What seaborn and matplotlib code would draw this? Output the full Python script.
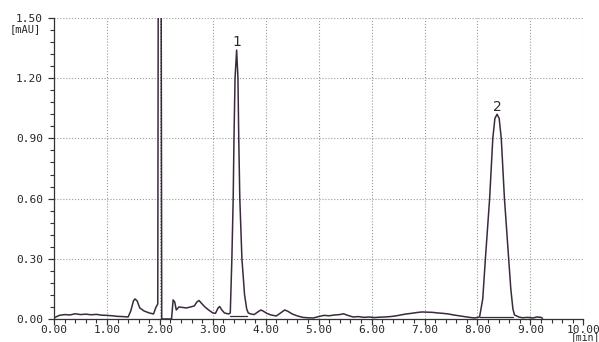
import numpy as np
import pandas as pd
import matplotlib
matplotlib.use("Agg")
import matplotlib.pyplot as plt
import seaborn as sns
from matplotlib.ticker import MultipleLocator

# chromatogram trace (min, mAU)
times = [0.00, 0.05, 0.10, 0.20, 0.30, 0.40, 0.50, 0.60, 0.70, 0.80, 0.90,
         1.00, 1.10, 1.20, 1.30, 1.40, 1.45, 1.50, 1.53, 1.57, 1.62, 1.70,
         1.80, 1.88, 1.92, 1.96, 1.968, 1.975, 2.015, 2.025, 2.035, 2.22,
         2.25, 2.28, 2.31, 2.36, 2.42, 2.50, 2.58, 2.65, 2.70, 2.74, 2.78,
         2.85, 2.92, 3.00, 3.05, 3.10, 3.13, 3.17, 3.22, 3.30, 3.33, 3.36,
         3.385, 3.40, 3.42, 3.45, 3.475, 3.49, 3.51, 3.55, 3.60, 3.64, 3.67,
         3.72, 3.78, 3.85, 3.91, 3.96, 4.02, 4.10, 4.20, 4.28, 4.36, 4.42,
         4.50, 4.60, 4.70, 4.80, 4.90, 5.00, 5.10, 5.20, 5.30, 5.40, 5.47,
         5.55, 5.65, 5.75, 5.85, 5.95, 6.05, 6.15, 6.25, 6.35, 6.45, 6.55,
         6.65, 6.75, 6.85, 6.95, 7.05, 7.15, 7.25, 7.35, 7.45, 7.55, 7.65,
         7.75, 7.85, 7.95, 8.04, 8.10, 8.15, 8.19, 8.23, 8.26, 8.29, 8.33,
         8.37, 8.41, 8.45, 8.48, 8.51, 8.55, 8.59, 8.63, 8.67, 8.70, 8.78,
         8.85, 8.95, 9.05, 9.12, 9.20, 9.23]
signal = [0.005, 0.012, 0.018, 0.022, 0.020, 0.026, 0.022, 0.024, 0.021, 0.023, 0.019,
          0.018, 0.016, 0.013, 0.012, 0.010, 0.040, 0.090, 0.100, 0.090, 0.055, 0.040,
          0.030, 0.025, 0.055, 0.075, 1.50, 3.00, 3.00, 1.50, 0.000, 0.000,
          0.095, 0.085, 0.045, 0.060, 0.058, 0.055, 0.060, 0.065, 0.085, 0.092, 0.080,
          0.060, 0.045, 0.030, 0.028, 0.055, 0.062, 0.045, 0.030, 0.025, 0.030, 0.300,
          0.600, 0.900, 1.200, 1.340, 1.200, 0.900, 0.600, 0.300, 0.120, 0.050, 0.030,
          0.025, 0.022, 0.035, 0.045, 0.038, 0.028, 0.020, 0.015, 0.030, 0.045, 0.038,
          0.025, 0.015, 0.008, 0.006, 0.005, 0.012, 0.018, 0.016, 0.020, 0.022, 0.026,
          0.018, 0.010, 0.012, 0.008, 0.010, 0.007, 0.009, 0.010, 0.012, 0.015, 0.020,
          0.025, 0.028, 0.032, 0.035, 0.034, 0.033, 0.030, 0.028, 0.025, 0.020, 0.016,
          0.012, 0.008, 0.005, 0.010, 0.100, 0.300, 0.450, 0.600, 0.750, 0.900, 1.000,
          1.020, 1.000, 0.900, 0.750, 0.600, 0.450, 0.300, 0.150, 0.050, 0.020, 0.010,
          0.006, 0.008, 0.005, 0.010, 0.008, 0.004]

# integration baselines under the numbered peaks
base_start = [3.33, 8.05]
base_end = [3.64, 8.68]
base_level = [0.017, 0.008]

# peak labels
peak_names = ["1", "2"]
peak_times = [3.45, 8.37]
peak_heights = [1.34, 1.02]

x_ticks = [0, 1, 2, 3, 4, 5, 6, 7, 8, 9, 10]
y_ticks = [0.0, 0.3, 0.6, 0.9, 1.2, 1.5]

df = pd.DataFrame({"time": times, "mAU": signal})

sns.set_style("white")
plt.rcParams["font.family"] = ["DejaVu Sans"]

line_col = "#3a2a3d"
fig = plt.figure(figsize=(5.99, 3.42), dpi=100)
ax = fig.add_axes([0.0902, 0.0673, 0.8836, 0.8801])

sns.lineplot(data=df, x="time", y="mAU", ax=ax, color=line_col, linewidth=1.1,
             sort=False, estimator=None)

for s, e, lv in zip(base_start, base_end, base_level):
    ax.plot([s, e], [lv, lv], color=line_col, linewidth=0.9)

for name, t, h in zip(peak_names, peak_times, peak_heights):
    ax.annotate(name, (t, h), xytext=(0, 0.5), textcoords="offset points",
                ha="center", va="bottom", fontsize=10, color="#2a2a2a")

ax.set_xlim(0, 10)
ax.set_ylim(0, 1.5)
ax.set_xticks(x_ticks)
ax.set_xticklabels([f"{v:.2f}" for v in x_ticks], family="DejaVu Sans Mono", fontsize=8)
ax.set_yticks(y_ticks)
ax.set_yticklabels([f"{v:.2f}" for v in y_ticks], family="DejaVu Sans Mono", fontsize=8)
ax.xaxis.set_minor_locator(MultipleLocator(0.2))
ax.yaxis.set_minor_locator(MultipleLocator(0.06))
ax.tick_params(which="major", direction="out", length=4, width=0.9, color="#333333",
               left=True, bottom=True)
ax.tick_params(which="minor", direction="out", length=3, width=0.8, color="#333333",
               left=True, bottom=True)
ax.tick_params(axis="y", pad=4)
ax.tick_params(axis="x", pad=0.5)
ax.grid(True, which="major", linestyle=":", color="#9a9a9a", linewidth=0.8)
ax.set_xlabel("")
ax.set_ylabel("")
for side in ["top", "right"]:
    ax.spines[side].set_visible(False)
for side in ["left", "bottom"]:
    ax.spines[side].set_color("#333333")
    ax.spines[side].set_linewidth(0.9)

fig.text(0.042, 0.915, "[mAU]", ha="center", va="center", fontsize=7.5,
         family="DejaVu Sans Mono")
fig.text(0.977, 0.001, "[min]", ha="center", va="bottom", fontsize=7,
         family="DejaVu Sans Mono")

fig.savefig("out.png", dpi=100)
